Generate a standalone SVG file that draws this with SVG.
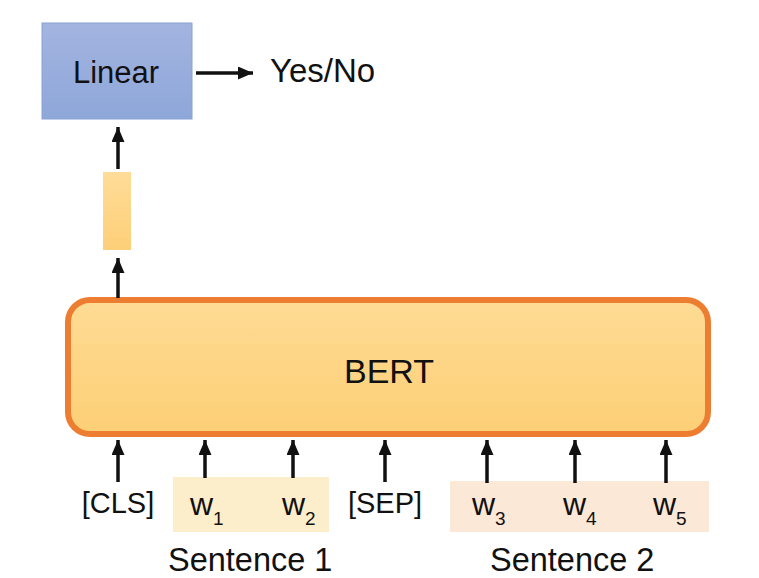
<svg xmlns="http://www.w3.org/2000/svg" width="759" height="578" viewBox="0 0 759 578">
  <defs>
    <linearGradient id="gBlue" x1="0" y1="0" x2="0" y2="1">
      <stop offset="0" stop-color="#a3b4e0"/>
      <stop offset="1" stop-color="#8ea7d9"/>
    </linearGradient>
    <linearGradient id="gBert" x1="0" y1="0" x2="0" y2="1">
      <stop offset="0" stop-color="#fedb94"/>
      <stop offset="1" stop-color="#fdcf76"/>
    </linearGradient>
    <linearGradient id="gVec" x1="0" y1="0" x2="0" y2="1">
      <stop offset="0" stop-color="#ffdc98"/>
      <stop offset="1" stop-color="#fdcf78"/>
    </linearGradient>
    <marker id="ah" viewBox="0 0 15 13" refX="15" refY="6.5" markerWidth="15" markerHeight="13" markerUnits="userSpaceOnUse" orient="auto">
      <path d="M0,0 L15,6.5 L0,13 z" fill="#111"/>
    </marker>
    <style>
      text { font-family: "Liberation Sans", Arial, sans-serif; fill: #111; }
      .arr { stroke: #111; stroke-width: 3.5; fill: none; marker-end: url(#ah); }
      .tok { font-size: 29px; text-anchor: middle; }
      .w { font-size: 32px; }
      .sub { font-size: 19px; }
      .sent { font-size: 32.5px; }
    </style>
  </defs>

  <g id="sentence1-bg">
    <rect x="173" y="477" width="156" height="55" fill="#fdeecb"/>
  </g>
  <g id="sentence2-bg">
    <rect x="450" y="481" width="259" height="51" fill="#fce8d7"/>
  </g>

  <g id="linear">
    <rect x="42" y="23" width="150" height="96" fill="url(#gBlue)" stroke="#8aa2d4" stroke-width="1"/>
    <text x="116" y="83" font-size="31" text-anchor="middle">Linear</text>
  </g>
  <g id="yesno">
    <text x="270" y="82" font-size="33">Yes/No</text>
  </g>
  <g id="cls-vector">
    <rect x="103" y="172" width="28" height="78" fill="url(#gVec)"/>
  </g>
  <g id="bert">
    <rect x="68" y="300" width="640" height="134" rx="22" ry="22" fill="url(#gBert)" stroke="#ed7d31" stroke-width="6"/>
    <text x="389" y="383" font-size="34" text-anchor="middle">BERT</text>
  </g>

  <g id="tok-cls"><text class="tok" x="118" y="513">[CLS]</text></g>
  <g id="tok-w1"><text class="w" x="190" y="515">w<tspan class="sub" dy="10">1</tspan></text></g>
  <g id="tok-w2"><text class="w" x="282" y="515">w<tspan class="sub" dy="10">2</tspan></text></g>
  <g id="tok-sep"><text class="tok" x="385" y="513">[SEP]</text></g>
  <g id="tok-w3"><text class="w" x="472" y="515">w<tspan class="sub" dy="10">3</tspan></text></g>
  <g id="tok-w4"><text class="w" x="563" y="515">w<tspan class="sub" dy="10">4</tspan></text></g>
  <g id="tok-w5"><text class="w" x="653" y="515">w<tspan class="sub" dy="10">5</tspan></text></g>

  <g id="label-s1"><text class="sent" x="168" y="571">Sentence 1</text></g>
  <g id="label-s2"><text class="sent" x="490" y="571">Sentence 2</text></g>

  <g id="connectors">
    <line class="arr" x1="196" y1="73" x2="253" y2="73"/>
    <line class="arr" x1="118" y1="169" x2="118" y2="127"/>
    <line class="arr" x1="118" y1="298" x2="118" y2="258"/>
    <line class="arr" x1="118" y1="482" x2="118" y2="440"/>
    <line class="arr" x1="205" y1="478" x2="205" y2="440"/>
    <line class="arr" x1="293" y1="478" x2="293" y2="440"/>
    <line class="arr" x1="385" y1="482" x2="385" y2="440"/>
    <line class="arr" x1="487" y1="483" x2="487" y2="440"/>
    <line class="arr" x1="575" y1="483" x2="575" y2="440"/>
    <line class="arr" x1="666" y1="483" x2="666" y2="440"/>
  </g>
</svg>
